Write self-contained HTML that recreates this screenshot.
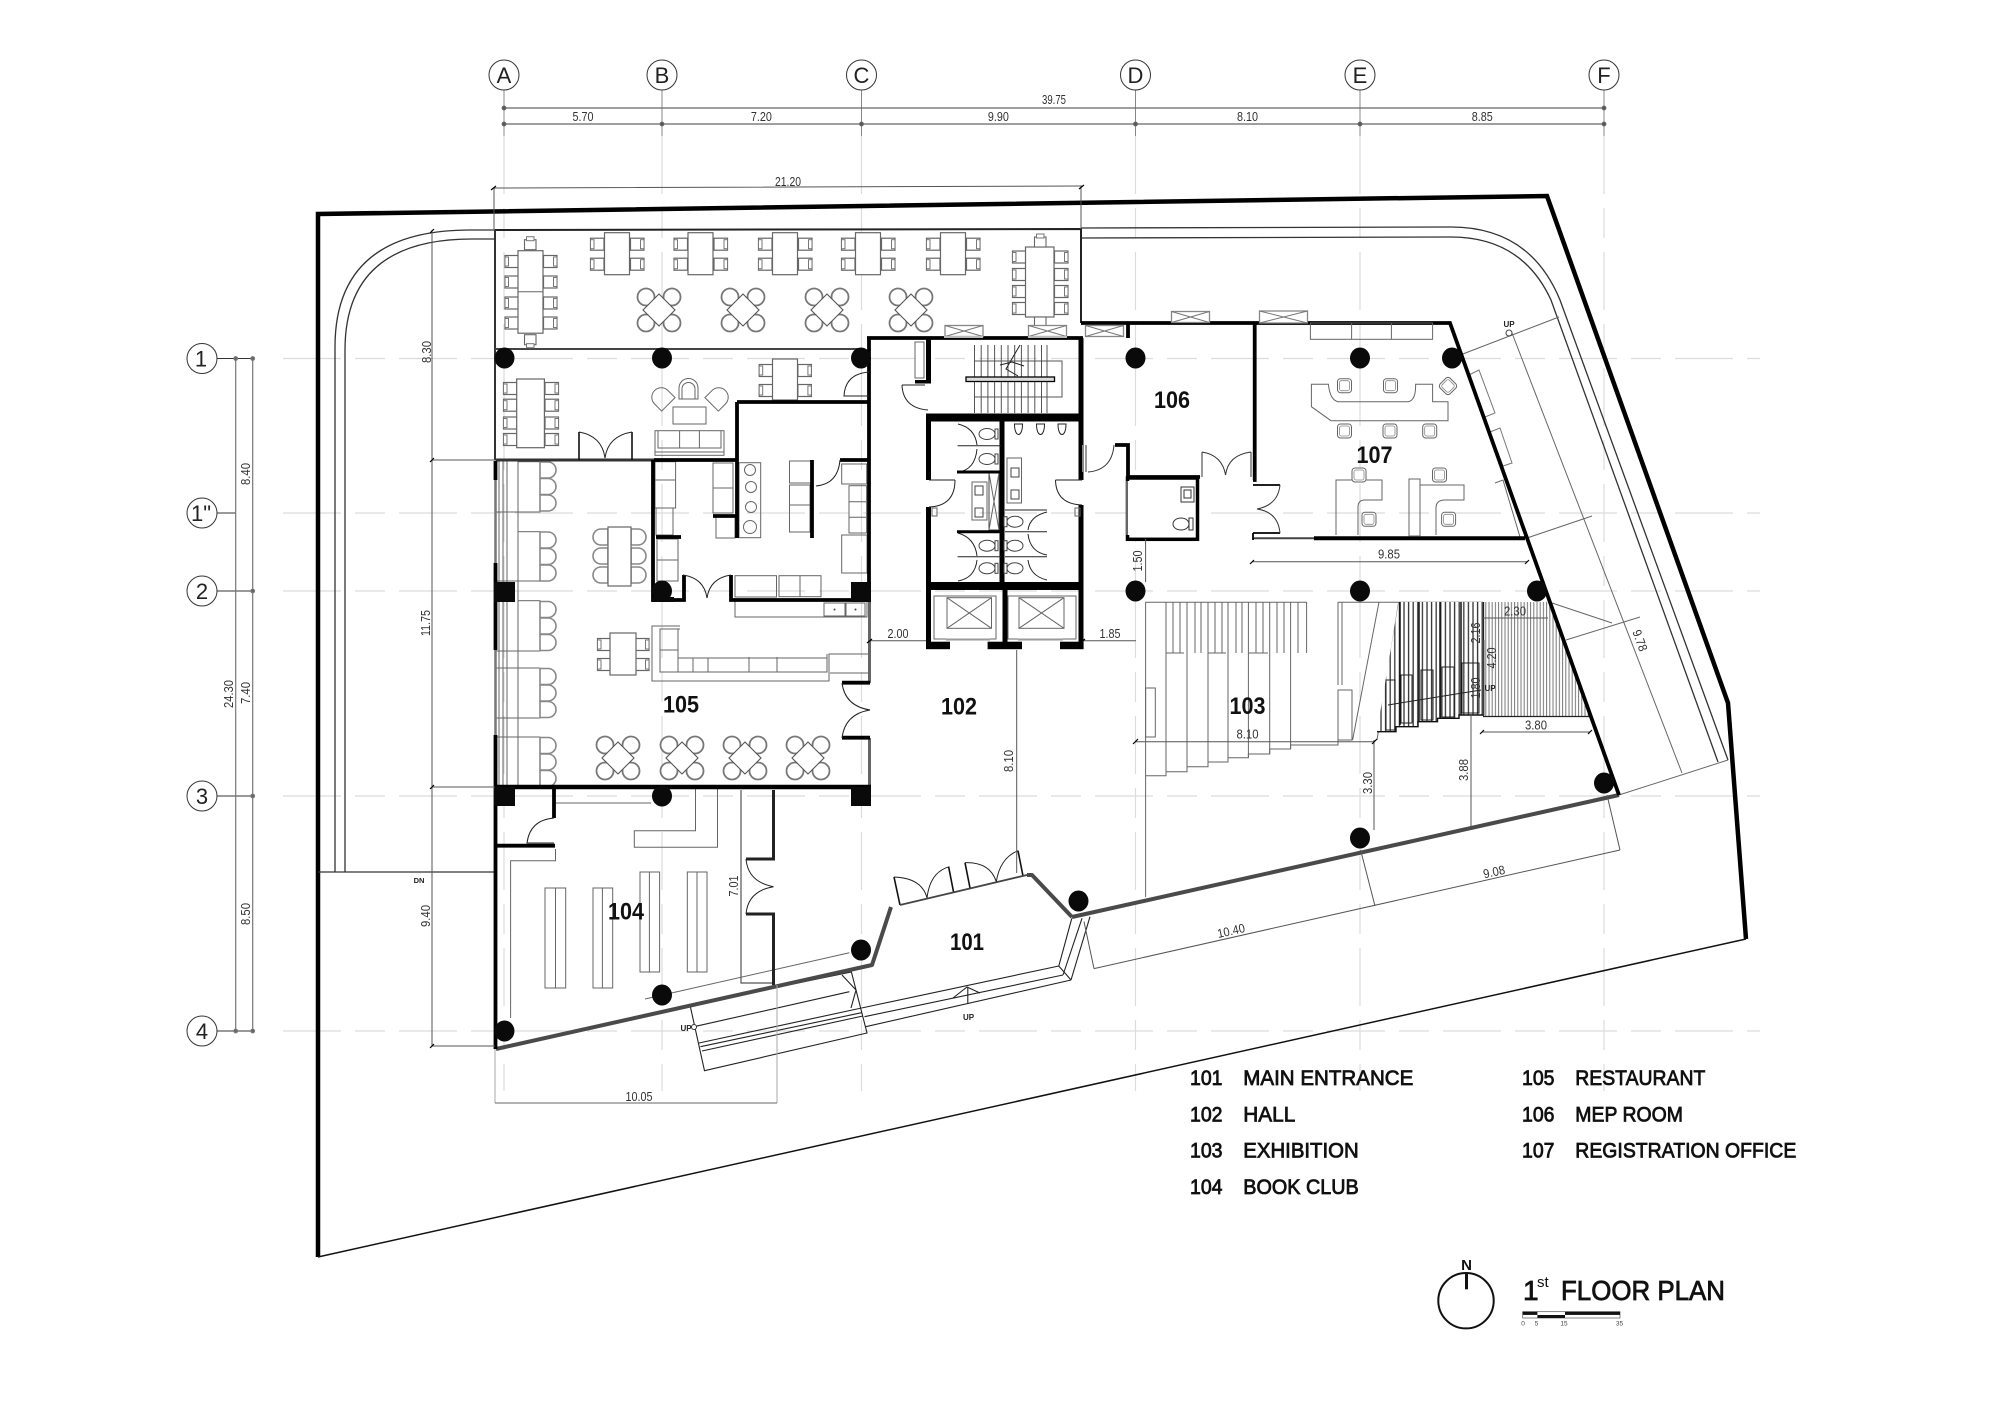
<!DOCTYPE html>
<html><head><meta charset="utf-8"><title>1st Floor Plan</title>
<style>
html,body{margin:0;padding:0;background:#fff}
svg{display:block}
text{font-family:"Liberation Sans",sans-serif}
.d{font-size:12.5px;fill:#333;text-anchor:middle}
.r{font-size:24px;font-weight:bold;fill:#111;text-anchor:middle}
.l{font-size:21.5px;fill:#111;stroke:#111;stroke-width:.8}
.g{font-size:22px;fill:#222;text-anchor:middle}
.u{font-size:8px;fill:#222;text-anchor:middle;font-weight:bold}
.f rect,.f path,.f line,.f circle,.f ellipse,.f polygon,.f polyline{stroke:#666;stroke-width:1;fill:none}
</style></head>
<body>
<svg xmlns="http://www.w3.org/2000/svg" width="2000" height="1415" viewBox="0 0 2000 1415">
<defs>
<g id="chL"><rect x=".5" y=".5" width="13.5" height="12" fill="#fff" stroke="#666" stroke-width="1.2"/><rect x=".5" y="2" width="3.5" height="9" fill="#fff" stroke="#777" stroke-width="1"/></g>
<g id="chR"><rect x=".5" y=".5" width="13.5" height="12" fill="#fff" stroke="#666" stroke-width="1.2"/><rect x="10.5" y="2" width="3.5" height="9" fill="#fff" stroke="#777" stroke-width="1"/></g>
<g id="chT"><rect x="0" y="3" width="11.5" height="10" fill="#fff" stroke="#666" stroke-width="1.1"/><rect x="2" y="0" width="7.5" height="4" fill="#fff" stroke="#777"/></g>
<g id="sR"><path d="M0 .5h8a8 8 0 0 1 0 16h-8z" fill="#fff" stroke="#888" stroke-width="1.6"/></g>
<g id="sL"><path d="M15 .5h-7a8 8 0 0 0 0 16h7z" fill="#fff" stroke="#888" stroke-width="1.6"/></g>
<g id="lob">
<circle cx="-13" cy="-13" r="8.5" fill="#fff" stroke="#777" stroke-width="1.8"/><circle cx="13" cy="-13" r="8.5" fill="#fff" stroke="#777" stroke-width="1.8"/>
<circle cx="-13" cy="13" r="8.5" fill="#fff" stroke="#777" stroke-width="1.8"/><circle cx="13" cy="13" r="8.5" fill="#fff" stroke="#777" stroke-width="1.8"/>
<polygon points="0,-16 16,0 0,16 -16,0" fill="#fff" stroke="#555" stroke-width="1.1"/></g>
<g id="t4">
<use href="#chL" x="-27" y="5"/><use href="#chL" x="-27" y="25"/><use href="#chR" x="13" y="5"/><use href="#chR" x="13" y="25"/>
<rect x="-12.5" y="0" width="25" height="42" fill="#fff" stroke="#666" stroke-width="1.2"/></g>
<g id="off"><rect x="-7" y="-7" width="14" height="14" rx="3" fill="#fff" stroke="#666"/><rect x="-5" y="-5" width="10" height="10" rx="2" fill="none" stroke="#888" stroke-width=".8"/></g>
<g id="wc"><ellipse cx="0" cy="0" rx="8" ry="5.5" fill="#fff" stroke="#444"/><rect x="8" y="-5" width="3" height="10" fill="#fff" stroke="#444"/></g>
<g id="xb"><rect x=".5" y=".5" width="38" height="11" fill="#fff" stroke="#888" stroke-width="1.3"/><path d="M.5 .5L38.500 11.500M38.500 .5L.5 11.500" stroke="#777" fill="none"/></g>
<pattern id="hd" width="4.6" height="10" patternUnits="userSpaceOnUse"><rect width="4.6" height="10" fill="#fff"/><line x1="1" y1="0" x2="1" y2="10" stroke="#333" stroke-width="1.3"/></pattern>
<pattern id="hl" width="3.2" height="10" patternUnits="userSpaceOnUse"><rect width="3.2" height="10" fill="#fff"/><line x1="1" y1="0" x2="1" y2="10" stroke="#777" stroke-width="1"/></pattern>
</defs>
<rect width="2000" height="1415" fill="#fff"/>

<!-- grid lines -->
<g stroke="#dcdcdc" stroke-width="1.2" fill="none" stroke-dasharray="58 14 30 14">
<path d="M283 358.500H1760M283 513H1760M283 591H1760M283 796H1760M283 1031H1760"/>
<path d="M504 136V1091M662 136V1091M861.500 136V1091M1135.500 136V1091M1360 136V1091M1604 136V1091"/>
</g>

<!-- grid bubbles top -->
<g fill="#fff" stroke="#333" stroke-width="1">
<path d="M504 90V136M662 90V136M861.500 90V136M1135.500 90V136M1360 90V136M1604 90V136" fill="none" stroke="#888"/>
<circle cx="504" cy="75" r="15"/><circle cx="662" cy="75" r="15"/><circle cx="861.500" cy="75" r="15"/><circle cx="1135.500" cy="75" r="15"/><circle cx="1360" cy="75" r="15"/><circle cx="1604" cy="75" r="15"/>
</g>
<g class="g" style="font-size:21px"><text class="g" x="504" y="83">A</text><text class="g" x="662" y="83">B</text><text class="g" x="861.500" y="83">C</text><text class="g" x="1135.500" y="83">D</text><text class="g" x="1360" y="83">E</text><text class="g" x="1604" y="83">F</text></g>
<g stroke="#666" stroke-width="1.2" fill="#555">
<path d="M504 108H1604M504 124H1604" fill="none"/>
<circle cx="504" cy="108" r="1.800"/><circle cx="1604" cy="108" r="1.800"/>
<circle cx="504" cy="124" r="1.800"/><circle cx="662" cy="124" r="1.800"/><circle cx="861.500" cy="124" r="1.800"/><circle cx="1135.500" cy="124" r="1.800"/><circle cx="1360" cy="124" r="1.800"/><circle cx="1604" cy="124" r="1.800"/>
</g>

<!-- grid bubbles left -->
<g fill="#fff" stroke="#333" stroke-width="1">
<path d="M217 358.500H253M217 513H236M217 591H253M217 796H253M217 1031H253" fill="none"/>
<circle cx="202" cy="358.500" r="15"/><circle cx="202" cy="513" r="15"/><circle cx="202" cy="591" r="15"/><circle cx="202" cy="796" r="15"/><circle cx="202" cy="1031" r="15"/>
</g>
<text class="g" x="201" y="366.500">1</text><text class="g" x="201" y="521">1"</text><text class="g" x="202" y="599">2</text><text class="g" x="202" y="804">3</text><text class="g" x="202" y="1039">4</text>
<g stroke="#777" stroke-width="1.2" fill="#666">
<path d="M235.700 358.500V1031M252.700 358.500V1031" fill="none"/>
<circle cx="235.700" cy="358.500" r="1.800"/><circle cx="252.700" cy="358.500" r="1.800"/><circle cx="252.700" cy="591" r="1.800"/><circle cx="252.700" cy="796" r="1.800"/><circle cx="235.700" cy="1031" r="1.800"/><circle cx="252.700" cy="1031" r="1.800"/>
</g>

<!-- site boundary -->
<path d="M318 1257V214L1547 196L1728 703L1746 939" fill="none" stroke="#000" stroke-width="4.500" stroke-linejoin="miter"/>
<path d="M318 1257L1746 939" fill="none" stroke="#111" stroke-width="1.500"/>

<!-- ramp -->
<g fill="none" stroke="#333" stroke-width="1.300">
<path d="M495 230H470Q335 230 335 347V872"/>
<path d="M495 239H472Q345 239 345 350V872"/>
<path d="M318 872H496"/>
<path d="M1081 228L1451 227Q1530 227 1560 300L1728 760"/>
<path d="M1081 238L1451 237Q1522 237 1551 300L1718 762"/>
</g>
<g fill="none" stroke="#666" stroke-width="1">
<path d="M1728 760L1619 795"/>
<path d="M1512 333L1682 773"/>
<path d="M1455 357L1559 317"/>
<path d="M1527 538L1592 516"/>
<path d="M1549 602L1612 623"/>
<path d="M1566 640L1640 617"/>
<polygon points="1469,375 1479,370 1495,413 1485,417" stroke="#777"/>
<polygon points="1490,432 1500,428 1512,463 1503,466" stroke="#777"/>
<path d="M1495 483L1503 480L1520 537"/>
</g>
<circle cx="1509" cy="333" r="3" fill="#fff" stroke="#444"/>
<text class="u" x="1509" y="327">UP</text>
<text class="u" x="419" y="883" style="font-size:7.500px">DN</text>

<!-- terrace -->
<path d="M495 230L1081 229V323" fill="none" stroke="#222" stroke-width="2"/>
<path d="M495 230V460" fill="none" stroke="#333" stroke-width="2"/>
<path d="M495 349H861" fill="none" stroke="#444" stroke-width="2"/>

<!-- terrace furniture -->
<use href="#t4" x="617" y="232.700"/><use href="#t4" x="700.500" y="232.700"/><use href="#t4" x="785" y="232.700"/><use href="#t4" x="868" y="232.700"/><use href="#t4" x="953" y="232.700"/>
<use href="#lob" x="659" y="310"/><use href="#lob" x="743" y="310"/><use href="#lob" x="827" y="310"/><use href="#lob" x="911" y="310"/>
<use href="#chL" x="504.500" y="255"/><use href="#chL" x="504.500" y="275.500"/><use href="#chL" x="504.500" y="296.500"/><use href="#chL" x="504.500" y="316.500"/>
<use href="#chR" x="543" y="255"/><use href="#chR" x="543" y="275.500"/><use href="#chR" x="543" y="296.500"/><use href="#chR" x="543" y="316.500"/>
<rect x="518" y="250.700" width="25" height="82.500" fill="#fff" stroke="#666" stroke-width="1.200"/><path d="M518 291.700H543" stroke="#666"/>
<use href="#chT" x="524.500" y="236.700"/><g transform="translate(524.500,347.700) scale(1,-1)"><use href="#chT"/></g>
<use href="#chL" x="1012" y="250.500"/><use href="#chL" x="1012" y="268"/><use href="#chL" x="1012" y="285"/><use href="#chL" x="1012" y="302"/>
<use href="#chR" x="1054" y="250.500"/><use href="#chR" x="1054" y="268"/><use href="#chR" x="1054" y="285"/><use href="#chR" x="1054" y="302"/>
<rect x="1025.500" y="247" width="28.500" height="70" fill="#fff" stroke="#666" stroke-width="1.200"/>
<use href="#chT" x="1034.500" y="234"/><g transform="translate(1034.500,330) scale(1,-1)"><use href="#chT"/></g>

<!-- upper restaurant furniture -->
<use href="#chL" x="503" y="382"/><use href="#chL" x="503" y="398.700"/><use href="#chL" x="503" y="416.500"/><use href="#chL" x="503" y="433"/>
<use href="#chR" x="544.500" y="382"/><use href="#chR" x="544.500" y="398.700"/><use href="#chR" x="544.500" y="416.500"/><use href="#chR" x="544.500" y="433"/>
<rect x="516.700" y="379" width="27.700" height="68.700" fill="#fff" stroke="#666" stroke-width="1.200"/>
<use href="#chL" x="758.700" y="364"/><use href="#chL" x="758.700" y="384"/><use href="#chR" x="797.400" y="364"/><use href="#chR" x="797.400" y="384"/>
<rect x="772.500" y="359" width="25" height="41" fill="#fff" stroke="#666" stroke-width="1.200"/>
<g class="f">
<path d="M679 399V388a9.500 9.500 0 0 1 19 0V399Z"/><path d="M682 399V389a6.500 6.500 0 0 1 13 0V399"/>
<g transform="rotate(-45 662 398)"><path d="M652.500 407V397a9.500 9.500 0 0 1 19 0V407Z"/></g>
<g transform="rotate(45 718 398)"><path d="M708.500 407V397a9.500 9.500 0 0 1 19 0V407Z"/></g>
<rect x="673" y="407" width="33" height="17"/>
<rect x="655" y="430.700" width="69" height="24.600"/><path d="M658 431V448H721V431M679.600 431V448M699.400 431V448M655 452H724"/>
</g>

<!-- restaurant booths -->
<g class="f" stroke="#666">
<path d="M499 461V787M503 461V787M507 461V787"/>
<path d="M518 461V787"/>
<path d="M496 512H540M496 581H518M496 651H540M496 668H518M496 718H540M496 737H540"/>
<rect x="518" y="461.700" width="22" height="50.300"/><rect x="518" y="531.700" width="22" height="49.300"/><rect x="518" y="600.700" width="22" height="50.300"/><rect x="518" y="668" width="22" height="50"/><rect x="518" y="737" width="22" height="49.500"/>
</g>
<use href="#sR" x="540" y="461.500"/><use href="#sR" x="540" y="478"/><use href="#sR" x="540" y="494.500"/>
<use href="#sR" x="540" y="531.500"/><use href="#sR" x="540" y="548"/><use href="#sR" x="540" y="564.500"/>
<use href="#sR" x="540" y="601"/><use href="#sR" x="540" y="617.500"/><use href="#sR" x="540" y="634"/>
<use href="#sR" x="540" y="668"/><use href="#sR" x="540" y="684.500"/><use href="#sR" x="540" y="701"/>
<use href="#sR" x="540" y="737"/><use href="#sR" x="540" y="753.500"/><use href="#sR" x="540" y="770"/>
<use href="#sL" x="593" y="528.500"/><use href="#sL" x="593" y="547.500"/><use href="#sL" x="593" y="566.500"/>
<g transform="translate(1238,0) scale(-1,1)"><use href="#sL" x="592" y="528.500"/><use href="#sL" x="592" y="547.500"/><use href="#sL" x="592" y="566.500"/></g>
<rect x="608" y="527" width="23" height="59" fill="#fff" stroke="#666" stroke-width="1.200"/>
<use href="#chL" x="597" y="638"/><use href="#chL" x="597" y="658"/><use href="#chR" x="635" y="638"/><use href="#chR" x="635" y="658"/>
<rect x="610" y="633" width="26" height="42" fill="#fff" stroke="#666" stroke-width="1.200"/>
<use href="#lob" x="618" y="758"/><use href="#lob" x="682" y="758"/><use href="#lob" x="745" y="758"/><use href="#lob" x="808" y="758"/>

<!-- counter -->
<g class="f">
<path d="M680 626H652V681H829V654H868"/>
<path d="M680 629H660V672H827V654"/>
<path d="M660 650H678M678 629V672M693 658V672M708 658V672M749 657V672M777 657V672M678 658H827"/>
<path d="M830 673H868"/>
<rect x="735" y="600" width="132" height="17"/><rect x="824" y="603" width="21" height="13"/><rect x="846" y="603" width="19" height="13"/>
</g>
<circle cx="834.500" cy="609.500" r="1" fill="#444"/><circle cx="855.500" cy="609.500" r="1" fill="#444"/>

<!-- kitchen fixtures -->
<g class="f">
<rect x="655" y="461.700" width="20.600" height="46.300"/><path d="M655 480H675"/>
<rect x="656" y="508" width="17" height="27"/>
<rect x="657" y="539" width="21" height="42"/><path d="M657 560H678"/>
<rect x="713" y="463" width="20" height="25"/><rect x="713" y="488" width="20" height="25"/>
<rect x="716" y="517" width="19" height="21"/>
<rect x="739" y="462.700" width="21.700" height="75"/>
<circle cx="750" cy="470" r="5.500"/><circle cx="751" cy="487" r="5.500"/><circle cx="751" cy="507" r="5.500"/><circle cx="750" cy="527" r="6.500"/>
<rect x="789.500" y="461" width="22.500" height="22"/><rect x="789.500" y="485" width="20.500" height="20"/><rect x="789.500" y="505" width="20.500" height="27"/>
<rect x="841.700" y="464" width="25" height="20"/><rect x="849" y="485.700" width="17.600" height="47.300"/><path d="M849 501.700H866M849 517.300H866"/>
<rect x="841.700" y="535" width="25.300" height="38"/>
<rect x="735" y="575.700" width="41.500" height="21.300"/><rect x="779" y="575.700" width="42" height="21"/><path d="M800 576V597"/>
</g>

<!-- book club fixtures -->
<g class="f">
<path d="M555.500 849V860.700H510.600V1018"/>
<path d="M555 803H651"/>
<path d="M695.500 789V830.700H634.300V847.300H717.500V789"/>
<rect x="545" y="888" width="20.700" height="100"/><path d="M555.500 888V988"/>
<rect x="593" y="888" width="19.700" height="100"/><path d="M602.400 888V988"/>
<rect x="640" y="872" width="19.600" height="100"/><path d="M649.400 872V972"/>
<rect x="687.300" y="872" width="19.700" height="100"/><path d="M697 872V972"/>
<path d="M645 999L849.400 952.700" stroke="#ccc"/>
</g>
<path d="M741 790V983H773.500" fill="none" stroke="#555" stroke-width="1.200"/>

<!-- exhibition -->
<g class="f" stroke="#888">
<path d="M1145.600 602.300H1306.600M1338 602.300H1483" stroke="#888"/>
<path d="M1145.600 602V897"/>
<polyline points="1145.600,775.700 1166,775.700 1166,771.700 1187,771.700 1187,766.700 1208,766.700 1208,762 1228,762 1228,757.700 1248.400,757.700 1248.400,754 1269.700,754 1269.700,749 1290.600,749 1290.600,745 1338,745 1338,740 1352,740"/>
<path d="M1166 602V775M1187 602V771M1208 602V766M1228 602V762M1248.400 602V757M1269.700 602V754M1290.600 602V749M1306.600 602V653"/>
<path d="M1173 602V653M1180 602V653M1195 602V653M1201 602V653M1215 602V653M1222 602V653M1236 602V653M1242 602V653M1256 602V653M1263 602V653M1277 602V653M1284 602V653M1298 602V653"/>
<rect x="1145.600" y="688" width="9.700" height="49"/>
<path d="M1338 602V685M1342 602V685"/><rect x="1338" y="690" width="14" height="50"/>
<path d="M1379 602L1352.600 740M1398.700 602L1377 740"/>
<path d="M1166 653H1184M1208 653H1226M1249 653H1268" stroke="#999" stroke-width="2.500"/>
</g>
<polygon points="1398.700,602 1483,602 1483,715 1459,715 1459,718.300 1437.500,718.300 1437.500,721.700 1418,721.700 1418,726.700 1396,726.700 1396,731.700 1377,731.700" fill="url(#hd)"/>
<polygon points="1483,602 1550,602 1591,716.500 1483,716.500" fill="url(#hl)"/>
<path d="M1483.500 602V716M1483 716.500H1591" stroke="#222" stroke-width="1.300" fill="none"/>
<polyline points="1377,731.700 1396,731.700 1396,726.700 1418,726.700 1418,721.700 1437.500,721.700 1437.500,718.300 1459,718.300 1459,715 1483,715" fill="none" stroke="#111" stroke-width="1.400"/>
<g fill="none" stroke="#222" stroke-width="1">
<rect x="1386" y="680" width="9" height="50"/><rect x="1401" y="675" width="11" height="48"/><rect x="1421" y="670" width="12" height="50"/><rect x="1442" y="667" width="12" height="50"/><rect x="1462" y="663" width="17" height="50"/>
</g>
<path d="M1400 602V725M1419 602V722M1440 602V718M1461 602V715" stroke="#111" stroke-width="1.500" fill="none"/>
<path d="M1388 705L1481 690" stroke="#222" stroke-width="1" fill="none"/>
<text class="u" x="1490" y="691">UP</text>

<!-- entrance stairs -->
<g fill="none" stroke="#222" stroke-width="1.100">
<polygon points="690,1005 851.400,972 867,1033 704.500,1070.700"/>
<path d="M699 1043L861.600 1008M700.400 1046.700L861.600 1012.700M702 1051L863 1016"/>
<path d="M694 1026.700L849.400 991.700M842 975L856 990L851 1008"/>
<path d="M861.600 1008L1058.800 966M864.500 1016.700L1063 975M865.700 1026.700L1071 980"/>
<path d="M1058.800 966L1071.800 918.300M1071 980L1090 916.700M1082 918.300L1063 975M1058.800 966L1071 980"/>
<path d="M967.800 986.700V1003M953 998L967 987L980 993"/>
</g>
<circle cx="694" cy="1027" r="2.500" fill="#fff" stroke="#333"/>
<text class="u" x="686" y="1031">UP</text>
<text class="u" x="968.600" y="1020">UP</text>

<!-- entrance doors -->
<g fill="none" stroke="#222" stroke-width="1">
<path d="M894 877Q922 878 927 898Q930 872 949.400 866.700"/>
<path d="M965 862.700Q990 862 996.300 881.700Q1000 858 1018 850.700"/>
</g>
<path d="M894 877L900 905M948.600 866.700L953.500 891.700M965 862.700L970 888M1018 850.700L1023 876" fill="none" stroke="#111" stroke-width="1.600"/>

<!-- wall: south & entrance -->
<g fill="none" stroke="#4a4a4a" stroke-width="4" stroke-linejoin="round">
<path d="M496 1049L872 965L891 907"/>
<path d="M1072 917L1619 795"/>
<path d="M1027 875L1032 875L1072 917"/>
</g>
<path d="M900 905L1027 875" fill="none" stroke="#444" stroke-width="1.800"/>

<!-- thin grey walls -->
<path d="M869.500 600V683M869.500 738V787" stroke="#666" stroke-width="3" fill="none"/>

<!-- black walls -->
<g fill="none" stroke="#000" stroke-width="3.800">
<path d="M495.500 460H654" stroke="#333" stroke-width="3"/>
<path d="M654 460H737M737 402V538M812 460V538M840 460H869"/>
<path d="M737 402H869"/>
<path d="M869 337V600"/>
<path d="M867 338H1083"/>
<path d="M653 460V600H684V575M731 575V600H851"/>
<path d="M656 537H681M713 516H737"/>
<path d="M495.500 461V480M495.500 563V650M495.500 735V1049"/>
<path d="M495 787H871" stroke-width="4.500"/>
<path d="M554 789V818M496 845.700H555"/>
<path d="M773.500 790V859H746M746 914H773.500V985" stroke="#222" stroke-width="3"/>
<path d="M842 682.700H870M842 737.700H870"/>
<path d="M1081 323H1450L1619 795"/>
<path d="M1128 323V338M1115 445H1128V477H1200"/>
<path d="M1254.700 323V480H1253"/>
<path d="M1314 538.300H1525" stroke-width="4"/>
</g>
<path d="M1253 538.300H1314" stroke="#444" stroke-width="2" fill="none"/>
<path d="M1253 533V540M1253 485H1280M1253 533H1280" stroke="#000" stroke-width="1.800" fill="none"/>
<path d="M495.500 480V563M495.500 650V735" stroke="#777" stroke-width="2.500" fill="none"/>

<!-- core -->
<g fill="none" stroke="#000" stroke-width="5">
<path d="M928.500 338V383M928.500 414V480M928.500 507V649M1081 338V480M1081 505V649M1002 421V582M1005 590V642"/>
<path d="M926 417.500H1083" stroke-width="8"/>
<path d="M926 586H1083" stroke-width="8"/>
</g>
<rect x="926" y="641.700" width="24" height="7.500" fill="#000"/><rect x="987.600" y="641.700" width="34.400" height="7.500" fill="#000"/><rect x="1060" y="641.700" width="23.600" height="7.500" fill="#000"/>
<rect x="915" y="342" width="9" height="36" fill="#fff" stroke="#666"/>
<rect x="915" y="380" width="16" height="3.500" fill="#000"/>
<g class="f">
<rect x="934" y="596" width="62" height="43"/><rect x="1008" y="596" width="68" height="43"/>
<rect x="947" y="597.700" width="44.500" height="30.600"/><path d="M947 597.700L991.500 628.300M991.500 597.700L947 628.300"/>
<rect x="1019" y="597.700" width="45" height="30.600"/><path d="M1019 597.700L1064 628.300M1064 597.700L1019 628.300"/>
</g>
<path d="M946 639.500H990M1018 639.500H1063" stroke="#999" stroke-width="2" fill="none"/>

<!-- stairs -->
<g fill="none" stroke="#555" stroke-width="1">
<path d="M974.500 345V413M981.200 345V413M987.900 345V413M994.600 345V413M1001.300 345V413M1008 345V413M1014.700 345V413M1021.400 345V413M1028.100 345V413M1034.800 345V413M1041.500 345V413M1047 345V413"/>
<path d="M974.500 361H1062V397H974.500"/>
</g>
<path d="M1020 345L1006 369L1018 376M1000 365L1012 362L1024 366" fill="none" stroke="#222" stroke-width="1"/>
<rect x="966" y="377" width="88.500" height="4.500" fill="#ddd" stroke="#000" stroke-width="1.300"/>
<use href="#xb" x="944.500" y="325"/><use href="#xb" x="1028" y="325"/><use href="#xb" x="1085" y="325"/>
<use href="#xb" x="1171" y="311"/><rect x="1259.500" y="311" width="48" height="12" fill="#fff" stroke="#888" stroke-width="1.300"/><path d="M1259.500 311L1307.500 323M1307.500 311L1259.500 323" stroke="#777"/>
<path d="M944 337H983M1028 337H1067" stroke="#bbb" stroke-width="2"/>

<!-- restroom -->
<g fill="none" stroke="#222" stroke-width="1">
<path d="M957.600 445.700H1001M957.600 556.700H1001M1005 510H1047M1005 531.700H1047M1005 556.700H1047"/>
<path d="M958 424Q975 428 977 445M977 449Q975 470 958 472"/>
<path d="M958 533Q975 538 977 556M977 560Q975 578 958 581"/>
<path d="M1047 512Q1030 516 1028 530M1028 534Q1030 552 1047 555M1028 560Q1030 576 1047 580"/>
<path d="M955 480Q955 506 929 507M929 480H955"/>
<path d="M1055.500 480Q1056 504 1082 505M1055.500 480H1082"/>
<path d="M1014.500 424c0 14 8 14 8 0zM1036.500 424c0 14 8 14 8 0zM1058 424c0 14 8 14 8 0z"/>
<rect x="972" y="482" width="15" height="38" stroke="#666"/><rect x="989" y="473" width="10" height="57" stroke="#444"/><path d="M989 473L999 530M999 473L989 530" stroke="#666"/>
<rect x="1007" y="458" width="14.500" height="45" stroke="#666"/>
<rect x="975" y="486" width="8" height="9" stroke="#444"/><rect x="975" y="508" width="8" height="9" stroke="#444"/>
<rect x="1011" y="468" width="8" height="9" stroke="#444"/><rect x="1011" y="490" width="8" height="9" stroke="#444"/>
<path d="M932 508h5v8h-5z M1075 508h5v8h-5z" stroke="#666"/>
</g>
<path d="M957 472H1002M957 531.700H1002" stroke="#000" stroke-width="3" fill="none"/>
<use href="#wc" x="987" y="434"/><use href="#wc" x="987" y="459"/><use href="#wc" x="987" y="545.700"/><use href="#wc" x="987" y="568.300"/>
<g transform="translate(2030,0) scale(-1,1)"><use href="#wc" x="1015" y="521.700"/><use href="#wc" x="1015" y="545.700"/><use href="#wc" x="1015" y="568.300"/></g>

<!-- 106 / small toilet -->
<rect x="1127.500" y="478" width="70" height="61.300" fill="#fff" stroke="#000" stroke-width="3.500"/>
<path d="M1129 481V535" stroke="#fff" stroke-width="2"/><path d="M1127 481V535" stroke="#888" stroke-width="1.500"/>
<g fill="none" stroke="#333" stroke-width="1">
<rect x="1181" y="487" width="13" height="15"/><rect x="1184" y="490" width="7" height="8"/>
<ellipse cx="1181" cy="524" rx="8" ry="6"/><rect x="1189" y="518" width="4" height="12"/>
<path d="M1086 445V472M1088 472Q1112 470 1114 445"/>
<path d="M1202 452V477M1251 452V477"/>
<path d="M1202 452Q1222 455 1225.600 475Q1228 455 1251 452"/>
<path d="M1280 485Q1278 505 1257 509Q1278 512 1280 533"/>
</g>
<path d="M1083 445V472" stroke="#888" stroke-width="2" fill="none"/>

<!-- 107 furniture -->
<g class="f">
<rect x="1310.400" y="323" width="122.200" height="16.300" stroke="#888"/><path d="M1351.600 323V339M1391.400 323V339"/>
<path d="M1311.400 384.300H1328.400Q1330 400 1338 401.700H1408.400Q1416 400 1415.600 384.300H1432.600V401.700H1448V420.700H1331L1311.400 406.700Z"/>
<path d="M1336 535V480H1382V500H1365Q1358 500 1358 507V535" stroke="#888"/><path d="M1336 480V535"/>
<rect x="1409" y="479" width="11" height="57" stroke="#888"/><path d="M1420 485H1464V500H1445Q1436 500 1436 508V535" stroke="#888"/>
</g>
<use href="#off" x="1344.500" y="385.700"/><use href="#off" x="1390.500" y="385.700"/>
<use href="#off" x="1344.500" y="431"/><use href="#off" x="1390" y="431"/><use href="#off" x="1429.700" y="431"/>
<use href="#off" x="1359" y="475"/><use href="#off" x="1439.500" y="475"/><use href="#off" x="1369" y="519.300"/><use href="#off" x="1448.600" y="519.300"/>
<g transform="rotate(45 1448 386)"><use href="#off" x="1448" y="386"/></g>

<!-- doors -->
<g fill="none" stroke="#222" stroke-width="1">
<path d="M579 432V460M632 432V460" stroke="#111" stroke-width="1.600"/>
<path d="M579 432Q602 436 605 458Q608 436 632 432"/>
<path d="M683 575Q704 578 707 598Q710 578 731 575"/>
<path d="M840 460Q838 484 816 486"/>
<path d="M869 372Q845 374 844 396H869"/>
<path d="M902 385Q903 408 928 410M902 385H925"/>
<path d="M554 818Q530 820 527 843H554"/>
<path d="M842 683Q845 706 870 710Q845 714 842 738"/>
<path d="M746 859Q748 882 773.500 886.700Q748 891 746 914"/>
</g>

<!-- columns -->
<g fill="#0a0a0a">
<ellipse cx="504.500" cy="358" rx="10" ry="10.500"/><ellipse cx="662" cy="358" rx="10" ry="10.500"/><ellipse cx="861" cy="358" rx="10" ry="10.500"/>
<ellipse cx="1135.500" cy="358" rx="10" ry="10.500"/><ellipse cx="1360" cy="358" rx="10" ry="10.500"/><ellipse cx="1452" cy="358" rx="10" ry="10.500"/>
<ellipse cx="662" cy="591" rx="10" ry="10.500"/><ellipse cx="1135.500" cy="591" rx="10" ry="10.500"/><ellipse cx="1360" cy="591" rx="10" ry="10.500"/><ellipse cx="1537" cy="591" rx="10" ry="10.500"/>
<ellipse cx="662" cy="796" rx="10" ry="10.500"/><ellipse cx="1604" cy="783" rx="10" ry="10.500"/><ellipse cx="1360" cy="838" rx="10" ry="10.500"/><ellipse cx="1078.500" cy="901" rx="10" ry="10.500"/>
<ellipse cx="861" cy="950" rx="10" ry="10.500"/><ellipse cx="662" cy="995" rx="10" ry="10.500"/><ellipse cx="504.500" cy="1031" rx="10" ry="10.500"/>
<rect x="494" y="582" width="21" height="20"/><rect x="851" y="582" width="20" height="20"/><rect x="494" y="787" width="21" height="19"/><rect x="851" y="787" width="20" height="19"/>
<rect x="652" y="597" width="22" height="5"/>
</g>

<!-- dimension lines -->
<g fill="none" stroke="#555" stroke-width="1">
<path d="M493.500 188L1082 186M494 188V230M1081 186V229"/>
<path d="M432 230V1046M432 460H495M432 787H495M432 1046H495"/>
<path d="M869.500 640.700H926M1083 640.700H1136"/>
<path d="M1145.600 539V582"/>
<path d="M1252 561.700H1527"/>
<path d="M1135 741.700H1374"/>
<path d="M1016.700 650V873"/>
<path d="M1374 740V830M1471 716V826"/>
<path d="M1482 732H1590M1483 618H1548"/>
<path d="M1484 640V715"/>
<path d="M1094 968.600L1620 850M1084 921.600L1094 968.600M1360.600 850L1375 906M1607 795L1620 850"/>
<path d="M495 1049V1103M777 985V1103" stroke="#aaa"/>
<path d="M495 1103H777" stroke="#666"/>
</g>
<g stroke="#000" stroke-width="1.200" fill="none">
<path d="M491 190l5 -4M1079 189l5 -4M430 233l4 -4M430 462l4 -4M430 789l4 -4M430 1048l4 -4M867 643l5 -4M1080 643l5 -4M1133 744l5 -5M1372 744l5 -5M1250 564l4 -4M1525 564l4 -4M1480 734l4 -4M1588 734l4 -4"/>
</g>

<!-- dimension text -->
<text class="d" x="1054" y="104" textLength="24" lengthAdjust="spacingAndGlyphs">39.75</text>
<text class="d" x="583" y="121" textLength="21" lengthAdjust="spacingAndGlyphs">5.70</text>
<text class="d" x="761.400" y="121" textLength="21" lengthAdjust="spacingAndGlyphs">7.20</text>
<text class="d" x="998.400" y="121" textLength="21" lengthAdjust="spacingAndGlyphs">9.90</text>
<text class="d" x="1247.500" y="121" textLength="21" lengthAdjust="spacingAndGlyphs">8.10</text>
<text class="d" x="1482.300" y="121" textLength="21" lengthAdjust="spacingAndGlyphs">8.85</text>
<text class="d" x="788" y="186" textLength="26" lengthAdjust="spacingAndGlyphs">21.20</text>
<text class="d" transform="rotate(-90 431 347)" x="426" y="347" textLength="22" lengthAdjust="spacingAndGlyphs">8.30</text>
<text class="d" transform="rotate(-90 430 623)" x="430" y="623" textLength="26" lengthAdjust="spacingAndGlyphs">11.75</text>
<text class="d" transform="rotate(-90 430 916)" x="430" y="916" textLength="22" lengthAdjust="spacingAndGlyphs">9.40</text>
<text class="d" transform="rotate(-90 250 474)" x="250" y="474" textLength="22" lengthAdjust="spacingAndGlyphs">8.40</text>
<text class="d" transform="rotate(-90 250 693)" x="250" y="693" textLength="22" lengthAdjust="spacingAndGlyphs">7.40</text>
<text class="d" transform="rotate(-90 250 914)" x="250" y="914" textLength="22" lengthAdjust="spacingAndGlyphs">8.50</text>
<text class="d" transform="rotate(-90 233 694)" x="233" y="694" textLength="28" lengthAdjust="spacingAndGlyphs">24.30</text>
<text class="d" x="898" y="638" textLength="21" lengthAdjust="spacingAndGlyphs">2.00</text>
<text class="d" x="1110" y="638" textLength="21" lengthAdjust="spacingAndGlyphs">1.85</text>
<text class="d" transform="rotate(-90 1142 561)" x="1142" y="561" textLength="21" lengthAdjust="spacingAndGlyphs">1.50</text>
<text class="d" x="1389" y="558.500" textLength="22" lengthAdjust="spacingAndGlyphs">9.85</text>
<text class="d" x="1247.500" y="738.500" textLength="22" lengthAdjust="spacingAndGlyphs">8.10</text>
<text class="d" transform="rotate(-90 1013 761)" x="1013" y="761" textLength="22" lengthAdjust="spacingAndGlyphs">8.10</text>
<text class="d" transform="rotate(-90 1372 783)" x="1372" y="783" textLength="22" lengthAdjust="spacingAndGlyphs">3.30</text>
<text class="d" transform="rotate(-90 1468 770)" x="1468" y="770" textLength="22" lengthAdjust="spacingAndGlyphs">3.88</text>
<text class="d" x="1536" y="729.500" textLength="22" lengthAdjust="spacingAndGlyphs">3.80</text>
<text class="d" x="1515" y="615.500" textLength="22" lengthAdjust="spacingAndGlyphs">2.30</text>
<text class="d" transform="rotate(-90 1480 633)" x="1480" y="633" textLength="21" lengthAdjust="spacingAndGlyphs">2.16</text>
<text class="d" transform="rotate(-90 1496 658)" x="1496" y="658" textLength="21" lengthAdjust="spacingAndGlyphs">4.20</text>
<text class="d" transform="rotate(-90 1480 688)" x="1480" y="688" textLength="21" lengthAdjust="spacingAndGlyphs">1.80</text>
<text class="d" transform="rotate(-90 738 886)" x="738" y="886" textLength="21" lengthAdjust="spacingAndGlyphs">7.01</text>
<text class="d" x="639" y="1101" textLength="27" lengthAdjust="spacingAndGlyphs">10.05</text>
<text class="d" transform="rotate(-12.600 1232 935)" x="1232" y="935" textLength="28" lengthAdjust="spacingAndGlyphs">10.40</text>
<text class="d" transform="rotate(-12.600 1495 876)" x="1495" y="876" textLength="22" lengthAdjust="spacingAndGlyphs">9.08</text>
<text class="d" transform="rotate(70 1636 642)" x="1636" y="642" textLength="22" lengthAdjust="spacingAndGlyphs">9.78</text>

<!-- room labels -->
<text class="r" x="967" y="950" textLength="34" lengthAdjust="spacingAndGlyphs">101</text>
<text class="r" x="959" y="714.500" textLength="36" lengthAdjust="spacingAndGlyphs">102</text>
<text class="r" x="1247.500" y="714" textLength="36" lengthAdjust="spacingAndGlyphs">103</text>
<text class="r" x="626" y="919.500" textLength="36" lengthAdjust="spacingAndGlyphs">104</text>
<text class="r" x="681" y="712.500" textLength="36" lengthAdjust="spacingAndGlyphs">105</text>
<text class="r" x="1172" y="408" textLength="36" lengthAdjust="spacingAndGlyphs">106</text>
<text class="r" x="1374.500" y="463" textLength="36" lengthAdjust="spacingAndGlyphs">107</text>

<!-- legend -->
<text class="l" x="1190" y="1085" textLength="32.500" lengthAdjust="spacingAndGlyphs">101</text>
<text class="l" x="1243.300" y="1085" textLength="170" lengthAdjust="spacingAndGlyphs">MAIN ENTRANCE</text>
<text class="l" x="1190" y="1121.600" textLength="32.500" lengthAdjust="spacingAndGlyphs">102</text>
<text class="l" x="1243.300" y="1121.600" textLength="52" lengthAdjust="spacingAndGlyphs">HALL</text>
<text class="l" x="1190" y="1157.600" textLength="32.500" lengthAdjust="spacingAndGlyphs">103</text>
<text class="l" x="1243.300" y="1157.600" textLength="115.400" lengthAdjust="spacingAndGlyphs">EXHIBITION</text>
<text class="l" x="1190" y="1194" textLength="32.500" lengthAdjust="spacingAndGlyphs">104</text>
<text class="l" x="1243.300" y="1194" textLength="115.400" lengthAdjust="spacingAndGlyphs">BOOK CLUB</text>
<text class="l" x="1522" y="1085" textLength="32.500" lengthAdjust="spacingAndGlyphs">105</text>
<text class="l" x="1575.300" y="1085" textLength="130" lengthAdjust="spacingAndGlyphs">RESTAURANT</text>
<text class="l" x="1522" y="1121.600" textLength="32.500" lengthAdjust="spacingAndGlyphs">106</text>
<text class="l" x="1575.300" y="1121.600" textLength="107.600" lengthAdjust="spacingAndGlyphs">MEP ROOM</text>
<text class="l" x="1522" y="1157.600" textLength="32.500" lengthAdjust="spacingAndGlyphs">107</text>
<text class="l" x="1575.300" y="1157.600" textLength="221" lengthAdjust="spacingAndGlyphs">REGISTRATION OFFICE</text>

<!-- title -->
<circle cx="1466" cy="1300.700" r="27.700" fill="none" stroke="#111" stroke-width="2"/>
<path d="M1466.500 1272.700V1289.300" stroke="#111" stroke-width="3"/>
<text x="1466.500" y="1270" style="font-size:15px;text-anchor:middle;font-weight:bold;fill:#111">N</text>
<text x="1523" y="1300" style="font-size:28px;fill:#111;stroke:#111;stroke-width:.8">1</text>
<text x="1537" y="1287" style="font-size:15px;fill:#111">st</text>
<text x="1561" y="1300" textLength="164" lengthAdjust="spacingAndGlyphs" style="font-size:28px;fill:#111;stroke:#111;stroke-width:.8">FLOOR PLAN</text>
<rect x="1522.700" y="1311.700" width="97.300" height="6.300" fill="#fff" stroke="#555" stroke-width=".7"/>
<rect x="1522.700" y="1311.700" width="14.700" height="3.200" fill="#111"/><rect x="1537.400" y="1315" width="27.600" height="3" fill="#111"/><rect x="1565" y="1311.700" width="55" height="3.200" fill="#111"/>
<g style="font-size:6.500px;fill:#444;text-anchor:middle"><text x="1523" y="1325.500" text-anchor="middle">0</text><text x="1536.500" y="1325.500" text-anchor="middle">5</text><text x="1564" y="1325.500" text-anchor="middle">15</text><text x="1619.500" y="1325.500" text-anchor="middle">35</text></g>
</svg>
</body></html>
